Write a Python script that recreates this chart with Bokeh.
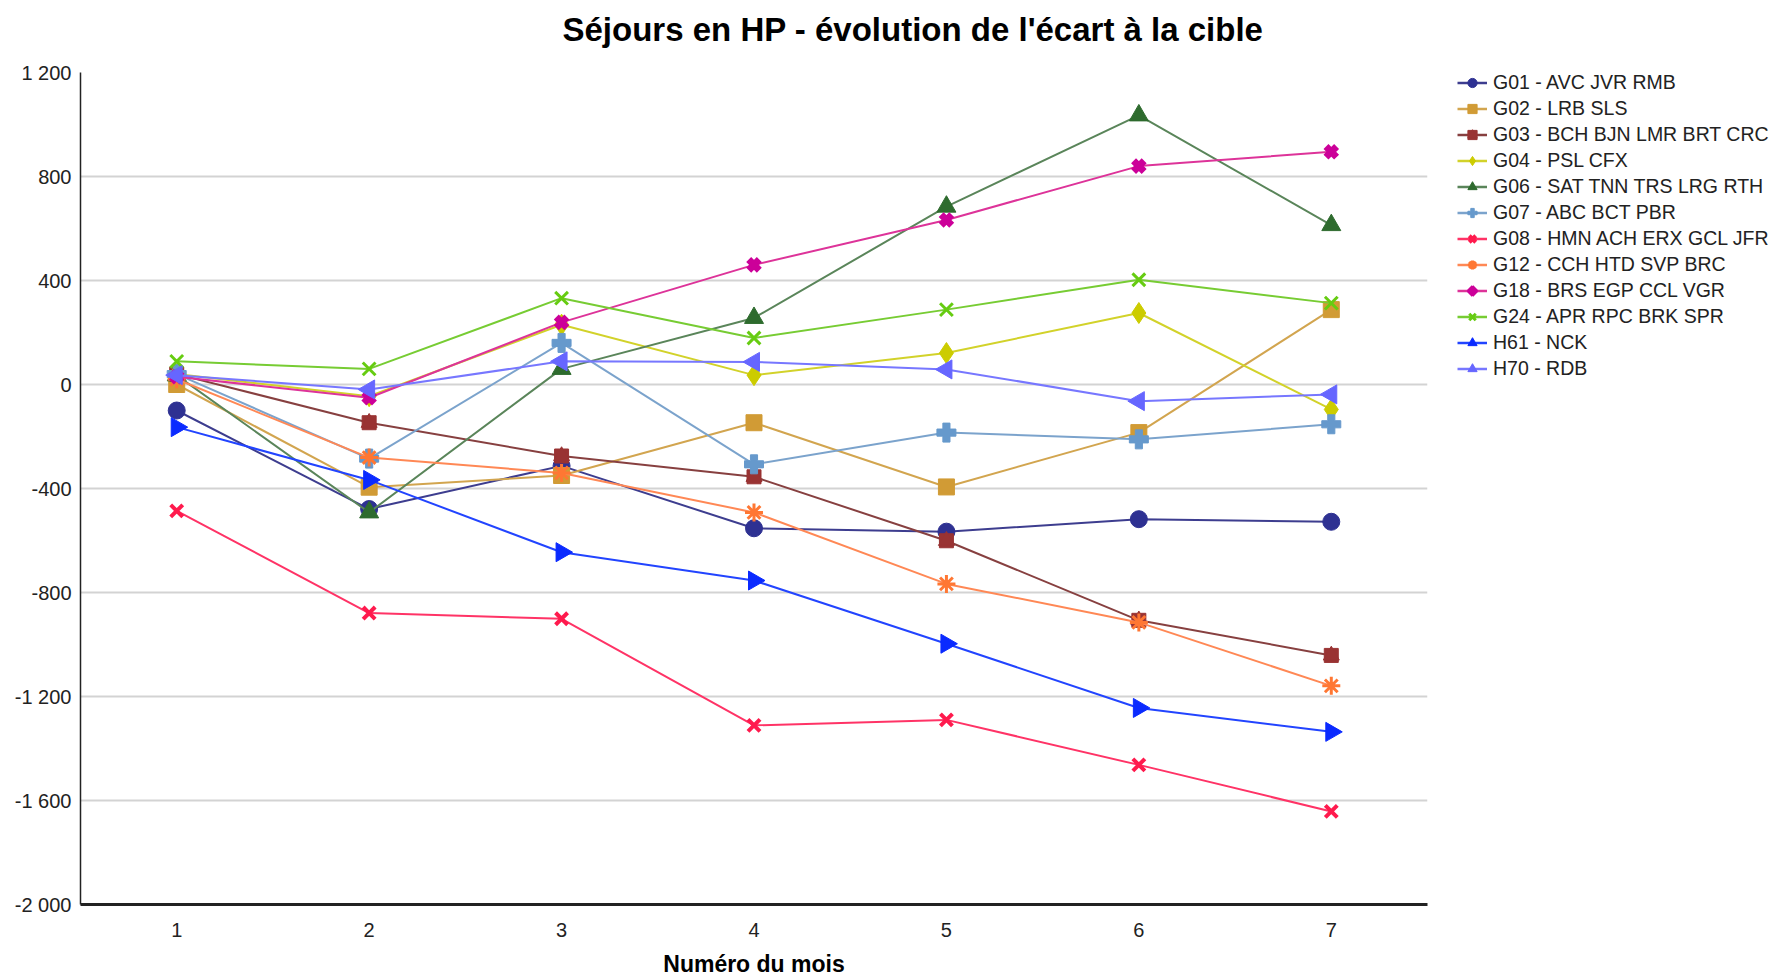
import math
from bokeh.plotting import figure
from bokeh.layouts import row
from bokeh.models import Legend, LegendItem, FixedTicker, Range1d, Title
from bokeh.embed import file_html
from bokeh.resources import INLINE

# ---------------- data ----------------
months = [1, 2, 3, 4, 5, 6, 7]
month_labels = ["1", "2", "3", "4", "5", "6", "7"]

names = ["G01 - AVC JVR RMB", "G02 - LRB SLS", "G03 - BCH BJN LMR BRT CRC",
         "G04 - PSL CFX", "G06 - SAT TNN TRS LRG RTH", "G07 - ABC BCT PBR",
         "G08 - HMN ACH ERX GCL JFR", "G12 - CCH HTD SVP BRC",
         "G18 - BRS EGP CCL VGR", "G24 - APR RPC BRK SPR", "H61 - NCK", "H70 - RDB"]

g01 = [-100, -479, -313, -553, -566, -518, -528]
g02 = [0, -395, -350, -147, -394, -185, 288]
g03 = [40, -147, -275, -355, -601, -907, -1042]
g04 = [40, -45, 230, 36, 121, 275, -96]
g06 = [35, -492, 60, 256, 684, 1035, 613]
g07 = [40, -285, 160, -307, -185, -211, -153]
g08 = [-486, -879, -901, -1311, -1290, -1463, -1642]
g12 = [20, -281, -340, -492, -767, -915, -1159]
g18 = [30, -51, 239, 460, 633, 840, 895]
g24 = [89, 60, 332, 179, 288, 403, 313]
h61 = [-164, -367, -645, -754, -997, -1244, -1336]
h70 = [36, -19, 89, 87, 58, -64, -38]

y_ticks = [1200, 800, 400, 0, -400, -800, -1200, -1600, -2000]
y_tick_labels = ["1 200", "800", "400", "0", "-400", "-800", "-1 200", "-1 600", "-2 000"]

values = [g01, g02, g03, g04, g06, g07, g08, g12, g18, g24, h61, h70]

# styles: (line colour, marker colour, marker, size, angle, line_width of marker)
styles = [
    ("#3d3d8f", "#2e3192", "circle", 17, 0, 1),
    ("#d2a54f", "#d19b35", "square", 16, 0, 1),
    ("#874040", "#993333", "house", 15, 0, 1),
    ("#d2d22a", "#cccc00", "diamond", 21, 0, 1),
    ("#5a855a", "#2e6b2e", "triangle", 19, 0, 1),
    ("#7ba3cc", "#6699cc", "plus", 19, 0, 1),
    ("#ff3366", "#ff1a4d", "x", 17, 0, 4),
    ("#ff8855", "#ff7733", "asterisk", 18, 0, 3),
    ("#dd3399", "#cc0099", "x", 15, 0, 7),
    ("#77cc33", "#66cc11", "x", 18, 0, 3),
    ("#2244ff", "#0a2aff", "triangle", 19, -math.pi / 2, 1),
    ("#7777ff", "#6666ff", "triangle", 19, math.pi / 2, 1),
]

FONT = "Liberation Sans"

p = figure(width=1440, height=979, output_backend="svg", toolbar_location=None,
           x_range=Range1d(0.5, 7.5), y_range=Range1d(-2000, 1200),
           min_border_left=80, min_border_right=13, min_border_top=72, min_border_bottom=72,
           title="Séjours en HP - évolution de l'écart à la cible")
p.outline_line_color = None

p.title.align = "left"
p.title.offset = 482
p.title.standoff = 0
p.title.text_font = FONT
p.title.text_font_size = "33px"
p.title.text_font_style = "bold"
p.title.text_color = "#000000"

# small white spacer between the frame and the title
p.add_layout(Title(text=".", text_font_size="2px", standoff=22, text_color="#ffffff"), "above")

# axes
p.xaxis.ticker = FixedTicker(ticks=months)
p.xaxis.major_label_overrides = {m: l for m, l in zip(months, month_labels)}
p.yaxis.ticker = FixedTicker(ticks=y_ticks)
p.yaxis.major_label_overrides = {t: l for t, l in zip(y_ticks, y_tick_labels)}
for ax in (p.xaxis[0], p.yaxis[0]):
    ax.major_tick_line_color = None
    ax.minor_tick_line_color = None
    ax.major_label_text_font = FONT
    ax.major_label_text_font_size = "20px"
    ax.major_label_text_color = "#222222"
    ax.axis_line_color = "#222222"
p.xaxis.axis_line_width = 3
p.yaxis.axis_line_width = 1.5
p.xaxis.major_label_standoff = 12
p.yaxis.major_label_standoff = 3
p.xaxis.axis_label = "Numéro du mois"
p.xaxis.axis_label_text_font = FONT
p.xaxis.axis_label_text_font_size = "23px"
p.xaxis.axis_label_text_font_style = "bold"
p.xaxis.axis_label_text_color = "#000000"
p.xaxis.axis_label_standoff = 11

p.xgrid.grid_line_color = None
p.ygrid.grid_line_color = "#d3d3d3"
p.ygrid.grid_line_width = 2

# legend panel: a second, axis-less figure holding renderers styled like the series
pl = figure(width=1773 - 1440, height=979, output_backend="svg", toolbar_location=None,
            x_axis_location=None, y_axis_location=None,
            min_border_left=0, min_border_right=0, min_border_top=0, min_border_bottom=0)
pl.outline_line_color = None
pl.xgrid.grid_line_color = None
pl.ygrid.grid_line_color = None

items = []
for name, vals, (lc, mc, mk, sz, ang, mlw) in zip(names, values, styles):
    p.line(months, vals, line_color=lc, line_width=2)
    if mk == "house":
        p.scatter(months, vals, marker="square", size=14, fill_color=mc, line_color=mc)
        p.scatter(months, vals, marker="triangle", size=16, fill_color=mc, line_color=mc)
    else:
        p.scatter(months, vals, marker=mk, size=sz, angle=ang,
                  fill_color=mc, line_color=mc, line_width=mlw)
    # legend keys (same style, drawn only in the legend)
    rs = [pl.line(months, vals, line_color=lc, line_width=2.5)]
    if mk == "house":
        rs.append(pl.scatter(months, vals, marker="square", fill_color=mc, line_color=mc))
        rs.append(pl.scatter(months, vals, marker="triangle", fill_color=mc, line_color=mc))
    else:
        rs.append(pl.scatter(months, vals, marker=mk, angle=ang, fill_color=mc,
                             line_color=mc, line_width=mlw))
    items.append(LegendItem(label=name, renderers=rs))

# keep the key renderers themselves out of view
pl.x_range = Range1d(100, 101)
pl.y_range = Range1d(100000, 100001)

legend = Legend(items=items, location=(17, 524))
legend.padding = 0
legend.margin = 0
legend.border_line_color = None
legend.background_fill_alpha = 0
legend.glyph_width = 30
legend.glyph_height = 23
legend.label_height = 20
legend.spacing = 3
legend.label_standoff = 6
legend.label_text_font = FONT
legend.label_text_font_size = "19.5px"
legend.label_text_color = "#222222"
pl.add_layout(legend)

layout = row(p, pl, spacing=0)
open("out.html", "w").write(file_html(layout, INLINE))
